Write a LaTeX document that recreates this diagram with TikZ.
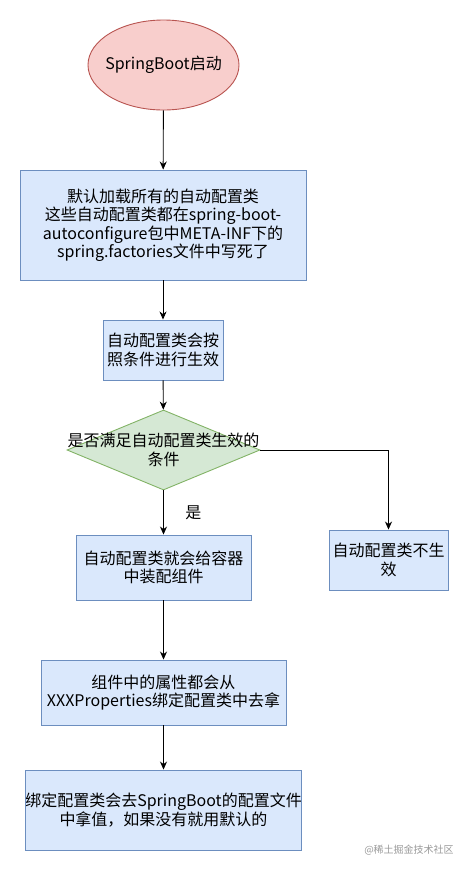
\documentclass[tikz,border=0pt]{standalone}
\usepackage{fontspec}
\setmainfont{Noto Sans CJK SC}
\usetikzlibrary{arrows.meta,shapes.geometric,positioning}
\definecolor{StartFill}{HTML}{F8CECC}
\definecolor{StartLine}{HTML}{B85450}
\definecolor{StepFill}{HTML}{DAE8FC}
\definecolor{StepLine}{HTML}{6C8EBF}
\definecolor{CheckFill}{HTML}{D5E8D4}
\definecolor{CheckLine}{HTML}{82B366}

\begin{document}
\begin{tikzpicture}[x=1pt, y=-1pt, font=\fontsize{16pt}{18.5pt}\selectfont,
  stepbox/.style={draw=StepLine, fill=StepFill, line width=0.9pt, align=center, inner sep=0pt},
  flow/.style={-{Stealth[length=8pt, width=7pt, inset=2.5pt]}, line width=0.9pt}]
  % Page frame
  \useasboundingbox (0,0) rectangle (469,871);

  % Start of the flow
  \node[ellipse, draw=StartLine, fill=StartFill, line width=0.9pt,
    minimum width=151pt, minimum height=90pt, inner sep=0pt,
    label=center:SpringBoot启动] (start) at (163.5,65) {};

  % Steps down the main column
  \node[stepbox, minimum width=286pt, minimum height=110pt] (load) at (163,225)
    {默认加载所有的自动配置类\\这些自动配置类都在spring-boot-\\autoconfigure包中META-INF下的\\spring.factories文件中写死了};
  \node[stepbox, minimum width=120pt, minimum height=60pt] (cond) at (163,350)
    {自动配置类会按\\照条件进行生效};

  % Decision
  \node[diamond, draw=CheckLine, fill=CheckFill, line width=0.9pt, inner sep=0pt,
    minimum width=193pt, minimum height=80pt,
    label={[align=center]center:是否满足自动配置类生效的\\条件}] (check) at (163.5,450) {};

  \node[stepbox, minimum width=175pt, minimum height=65pt] (inject) at (163.5,567.5)
    {自动配置类就会给容器\\中装配组件};
  \node[stepbox, minimum width=119pt, minimum height=60pt] (skip) at (388.5,560)
    {自动配置类不生\\效};
  \node[stepbox, minimum width=245pt, minimum height=65pt] (props) at (163.5,692.5)
    {组件中的属性都会从\\XXXProperties绑定配置类中去拿};
  \node[stepbox, minimum width=275pt, minimum height=80pt] (bind) at (163.5,810)
    {绑定配置类会去SpringBoot的配置文件\\中拿值，如果没有就用默认的};

  % Watermark
  \node[text=black!40, font=\fontsize{10pt}{12pt}\selectfont] (mark) at (409,850) {@稀土掘金技术社区};

  % Connectors
  \draw[flow] (start) -- (load);
  \draw[flow] (load) -- (cond);
  \draw[flow] (cond) -- (check);
  \draw[flow] (check) -- node[midway, right=18pt] {是} (inject);
  \draw[flow] (check.east) -| (skip.north);
  \draw[flow] (inject) -- (props);
  \draw[flow] (props) -- (bind);
\end{tikzpicture}
\end{document}
